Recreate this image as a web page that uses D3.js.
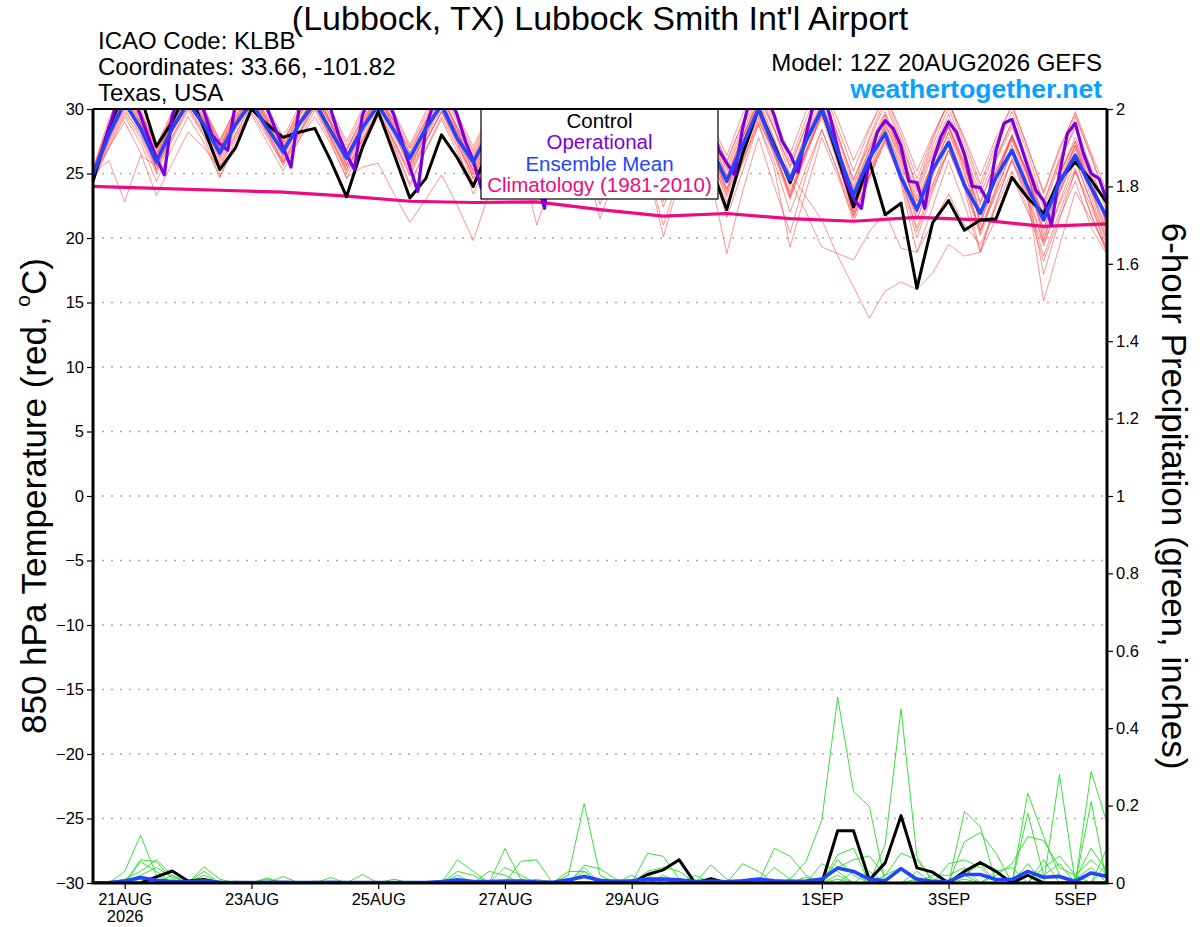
<!DOCTYPE html>
<html>
<head>
<meta charset="utf-8">
<script src="https://d3js.org/d3.v7.min.js"></script>
<style>
  body { margin: 0; background: #fff; }
  text { font-family: "Liberation Sans", Arial, Helvetica, sans-serif; }
</style>
</head>
<body>
<svg id="chart" width="1200" height="927"></svg>
<script>
// GEFS meteogram, Lubbock TX, run 12Z 20AUG2026
const START = Date.UTC(2026, 7, 20, 12);
const HOUR = 3600 * 1000;

const tempTicks = [-30, -25, -20, -15, -10, -5, 0, 5, 10, 15, 20, 25, 30];
const precipTicks = [0, 0.2, 0.4, 0.6, 0.8, 1, 1.2, 1.4, 1.6, 1.8, 2];
const tickDays = ["2026-08-21", "2026-08-23", "2026-08-25", "2026-08-27", "2026-08-29", "2026-09-01", "2026-09-03", "2026-09-05"];
const tickLabels = ["21AUG", "23AUG", "25AUG", "27AUG", "29AUG", "1SEP", "3SEP", "5SEP"];

// 6-hourly, 65 steps
const controlTemp = [
  24.4, 28.5, 31.5, 31.0, 27.1, 29.0, 31.5, 28.5, 25.3, 27.0,
  30.0, 28.8, 27.8, 28.2, 28.5, 26.0, 23.2, 27.0, 29.8, 26.5,
  23.1, 24.6, 28.0, 26.2, 24.0, 27.0, 30.5, 28.0, 24.5, 27.5,
  30.5, 28.0, 24.5, 28.0, 30.5, 28.0, 25.0, 28.5, 30.5, 25.5,
  22.2, 26.5, 30.0, 27.2, 24.3, 27.5, 30.0, 26.3, 22.4, 26.0,
  21.8, 22.7, 16.1, 21.2, 22.9, 20.6, 21.4, 21.5, 24.7, 23.1,
  21.9, 24.5, 25.9, 24.5, 22.7
];
const meanTemp = [
  24.9, 28.0, 30.5, 28.5, 25.9, 28.5, 30.5, 28.8, 26.6, 28.8,
  30.5, 28.5, 26.7, 28.8, 30.5, 28.3, 26.2, 28.5, 30.3, 28.3,
  26.2, 28.5, 30.3, 27.7, 25.9, 28.2, 30.3, 28.0, 25.7, 28.0,
  30.2, 27.8, 25.4, 28.0, 30.2, 27.5, 25.0, 27.8, 30.0, 27.0,
  24.4, 27.2, 30.0, 27.0, 24.5, 27.5, 30.0, 26.7, 23.3, 26.2,
  28.1, 24.7, 22.2, 25.3, 27.4, 24.1, 21.9, 24.7, 26.8, 23.9,
  21.4, 24.3, 26.4, 23.9, 21.6
];
// operational run is 3-hourly, 129 steps
const operTemp = [
  24.9, 26.5, 28.5, 30.5, 31.5, 31.0, 29.5, 27.8,
  26.2, 24.9, 29.5, 31.0, 31.5, 31.0, 29.8, 28.0,
  27.3, 26.8, 30.5, 31.5, 32.0, 31.5, 30.0, 28.5,
  27.0, 25.5, 30.0, 31.5, 32.0, 31.0, 30.0, 28.0,
  26.5, 25.3, 29.5, 31.0, 31.5, 31.0, 29.5, 27.5,
  25.5, 23.6, 28.5, 30.5, 31.5, 31.0, 29.5, 27.5,
  26.0, 23.9, 28.5, 30.5, 31.5, 31.0, 29.5, 27.0,
  24.5, 22.3, 28.0, 30.5, 31.5, 31.0, 29.5, 27.0,
  25.5, 23.8, 28.5, 30.5, 31.5, 31.0, 29.5, 27.5,
  25.5, 24.0, 28.5, 30.5, 31.5, 31.0, 29.0, 26.8,
  25.8, 24.9, 28.5, 31.0, 31.5, 31.0, 29.5, 27.5,
  26.5, 25.1, 28.0, 30.5, 31.5, 29.5, 27.0, 24.5,
  23.0, 22.3, 26.0, 28.2, 29.1, 28.5, 27.1, 24.4,
  24.3, 22.3, 25.9, 27.8, 29.0, 28.2, 26.5, 24.0,
  23.9, 22.8, 26.8, 28.9, 29.2, 27.4, 25.5, 23.7,
  22.9, 21.0, 25.0, 28.1, 28.9, 26.6, 25.0, 24.6,
  22.9
];
// daily, 12Z
const climTemp = [24.0, 23.85, 23.7, 23.55, 23.25, 22.85, 22.75, 22.8, 22.2, 21.7, 21.9, 21.5, 21.3, 21.6, 21.4, 20.9, 21.1];

// ensemble members (6-hourly)
const m01 = [25.2,28.6,31.2,29.4, 26.6,29.2,31.0,29.5, 27.2,29.5,31.3,29.2, 27.3,29.6,31.4,29.0, 26.8,29.2,31.0,29.0, 26.9,29.0,31.0,28.6, 26.4,28.8,30.9,28.6, 26.2,28.7,31.1,28.9, 26.0,28.6,31.0,28.4, 25.7,28.5,30.8,28.0, 25.2,28.2,31.0,28.4, 25.6,28.7,31.3,28.0, 24.6,27.2,29.8,26.5, 23.6,26.8,29.6,26.6, 23.4,26.3,28.9,25.6, 22.8,26.0,28.5,25.0, 22.5];
const m02 = [24.6,27.4,29.8,28.2, 25.4,27.9,30.2,28.0, 25.8,28.1,30.4,28.1, 26.0,28.2,30.6,27.8, 25.4,27.6,29.7,27.5, 25.0,27.5,29.8,27.2, 24.9,27.4,29.6,27.3, 25.1,27.8,30.1,27.6, 24.6,27.2,29.5,27.0, 23.8,26.6,29.2,26.4, 23.2,26.4,29.4,26.5, 23.6,26.8,29.8,26.0, 22.4,25.3,27.6,24.8, 21.6,24.2,26.8,24.0, 20.6,23.4,26.0,23.5, 20.8,23.6,26.1,22.7, 19.9];
const m03 = [25.0,26.0,22.8,26.4, 25.6,28.6,30.8,28.9, 26.8,29.1,31.0,29.0, 26.5,28.9,31.1,28.8, 26.3,28.6,30.8,28.5, 25.7,28.2,30.5,28.2, 25.9,28.4,30.7,28.4, 25.3,28.0,30.7,28.2, 25.5,28.3,30.9,28.1, 24.9,27.9,30.6,27.5, 24.4,27.8,30.8,27.7, 24.2,27.6,30.2,26.4, 21.6,24.8,28.4,25.6, 22.8,25.9,28.7,25.2, 21.2,24.6,27.9,25.0, 19.8,23.6,26.9,23.8, 20.3];
const m04 = [24.8,27.0,29.0,26.6, 23.3,25.8,28.2,27.0, 25.4,27.8,29.8,27.8, 25.8,27.6,29.4,27.3, 24.7,25.5,25.8,23.4, 21.2,23.0,24.9,22.5, 19.8,23.5,27.0,25.6, 23.5,26.8,29.6,27.5, 24.4,27.4,29.8,27.1, 23.6,26.9,29.7,26.9, 23.8,27.2,30.2,27.3, 24.0,27.4,30.0,26.0, 22.6,25.8,28.6,25.3, 21.9,25.1,28.2,25.6, 22.2,25.2,27.8,24.8, 21.8,25.0,27.5,24.2, 21.2];
const m05 = [25.4,29.2,32.0,30.0, 27.0,29.6,31.8,30.1, 27.6,30.0,32.2,30.2, 27.8,30.2,32.4,30.0, 27.5,30.0,32.0,29.8, 27.2,29.8,32.1,29.6, 27.1,29.6,31.8,29.5, 27.0,29.8,32.0,29.7, 26.8,29.5,31.8,29.2, 26.4,29.4,31.9,29.0, 26.4,29.6,32.2,29.3, 26.5,29.8,32.0,29.2, 26.0,28.6,31.0,28.4, 25.2,28.0,30.5,27.8, 24.8,27.8,30.2,27.0, 23.6,27.0,29.6,26.2, 23.0];
const m06 = [24.9,28.0,30.6,28.8, 26.0,28.6,30.6,28.9, 26.5,28.9,30.8,28.6, 26.9,29.0,30.9,28.4, 26.0,28.4,30.4,28.2, 26.4,28.6,30.6,28.0, 25.8,28.2,30.4,28.1, 25.6,28.2,30.5,28.0, 25.2,27.9,30.2,27.8, 24.8,27.6,30.1,27.3, 24.6,27.7,30.4,27.1, 24.8,27.9,30.6,27.2, 23.4,26.6,29.2,26.2, 22.9,25.8,28.6,25.8, 21.9,25.0,27.8,24.6, 21.6,24.6,27.2,24.1, 21.8];
const m07 = [25.0,28.2,30.8,29.0, 26.2,28.9,31.1,29.1, 26.8,29.2,31.2,29.0, 26.6,29.0,31.2,28.8, 26.0,28.7,31.0,28.7, 26.0,28.4,30.8,28.4, 25.6,28.2,30.6,28.5, 25.7,28.4,30.8,28.4, 25.4,28.2,30.7,28.2, 24.9,27.8,30.5,28.0, 24.8,27.9,30.6,27.0, 25.0,23.2,21.4,18.6, 16.2,13.8,15.9,16.6, 16.0,17.3,19.5,18.6, 18.9,21.5,24.8,22.0, 19.6,22.6,25.4,21.8, 19.0];
const m08 = [24.7,27.6,30.2,28.5, 25.8,28.3,30.4,28.6, 26.2,28.6,30.6,28.4, 26.4,28.7,30.7,28.2, 25.6,28.0,30.1,27.9, 25.7,27.9,30.0,27.6, 25.2,27.7,29.9,27.7, 24.8,27.5,29.8,27.4, 24.2,27.0,29.6,27.1, 23.8,26.8,29.3,26.6, 22.8,26.0,29.0,26.8, 24.5,22.0,19.3,18.8, 18.3,20.5,22.0,19.2, 18.9,21.2,23.4,21.0, 19.5,22.4,25.2,22.3, 18.2,21.6,24.4,20.8, 18.7];
const m09 = [25.1,28.4,31.0,29.2, 26.4,29.0,31.3,29.3, 27.0,29.4,31.5,29.4, 27.1,29.3,31.6,29.1, 26.4,28.8,31.0,28.6, 25.4,28.0,30.4,27.9, 24.6,27.6,30.0,27.2, 23.8,26.8,29.4,26.5, 22.6,25.8,28.6,25.4, 20.1,24.4,28.2,24.6, 18.8,23.6,27.8,24.0, 20.4,24.8,28.4,25.2, 21.8,24.8,27.4,24.6, 20.8,24.1,27.4,24.4, 20.6,23.8,26.6,23.2, 15.1,19.4,23.6,21.4, 19.2];
const m10 = [24.8,27.8,30.4,28.6, 25.6,28.2,30.3,28.5, 26.0,28.4,30.6,28.4, 25.9,28.1,30.2,27.8, 25.0,27.4,29.6,27.2, 24.2,26.9,29.4,27.0, 23.4,26.2,29.0,26.4, 21.0,24.5,28.4,26.0, 23.2,26.2,29.0,26.3, 22.4,25.6,28.8,25.8, 21.6,25.2,28.8,25.4, 19.3,23.6,27.8,24.8, 21.6,24.8,27.8,24.8, 20.5,23.8,26.8,24.0, 20.2,23.6,26.9,23.7, 19.4,22.8,26.0,22.8, 18.9];
const m11 = [25.3,28.8,31.4,29.6, 26.8,29.4,31.6,29.8, 27.4,29.8,31.8,29.7, 27.5,29.8,31.8,29.4, 26.8,29.1,31.2,29.0, 26.2,28.8,31.0,28.4, 25.0,27.8,30.2,27.4, 23.6,26.8,29.6,26.4, 21.5,25.0,28.4,25.4, 21.0,24.8,28.2,25.2, 22.4,26.0,29.2,26.4, 23.0,26.4,29.6,26.6, 22.0,25.6,28.9,25.8, 22.4,25.8,28.8,25.9, 21.0,24.6,28.0,24.9, 20.2,23.8,27.2,23.6, 20.0];
const m12 = [25.0,28.8,31.6,29.7, 26.9,29.5,31.9,30.0, 27.5,30.0,32.2,30.0, 27.4,29.9,32.1,29.8, 27.2,29.7,32.0,29.6, 27.0,29.5,31.9,29.4, 26.8,29.4,31.8,29.5, 26.6,29.4,31.9,29.4, 26.4,29.2,31.6,29.0, 26.0,29.0,31.6,28.8, 25.8,29.0,31.8,28.9, 25.9,29.2,31.9,28.6, 25.2,28.4,31.2,28.0, 24.6,27.8,30.6,27.6, 24.2,27.4,30.4,27.0, 23.4,26.8,29.8,26.6, 23.6];
const m13 = [24.5,27.2,29.6,27.8, 25.0,27.6,29.9,27.9, 24.7,27.6,30.1,28.0, 25.6,27.9,30.2,27.7, 25.2,27.6,29.8,27.4, 24.8,27.4,29.8,27.5, 24.6,27.3,29.7,27.2, 24.2,27.1,29.6,27.1, 23.8,26.9,29.6,27.0, 23.6,26.8,29.5,26.8, 23.4,26.8,29.8,26.8, 23.2,26.6,29.6,26.6, 23.0,26.2,28.8,26.2, 22.4,25.8,28.6,25.6, 21.8,25.2,28.0,25.0, 20.6,24.2,27.2,23.8, 20.6];
const m14 = [25.0,28.3,31.0,29.0, 25.2,28.4,31.0,29.2, 26.4,29.0,31.2,29.1, 27.0,29.4,31.4,29.0, 25.6,28.6,31.0,28.8, 25.8,28.5,30.9,28.6, 26.0,28.6,30.9,28.4, 25.6,28.4,30.8,28.2, 25.6,28.4,30.9,28.2, 25.4,28.2,30.6,27.6, 24.8,27.8,30.5,27.4, 24.2,27.4,30.3,27.0, 23.8,26.9,29.6,26.4, 22.0,25.4,28.2,25.0, 21.4,24.8,27.6,24.2, 21.9,24.9,27.5,24.6, 21.0];
const m15 = [24.3,27.0,29.4,27.4, 24.4,27.0,29.4,27.4, 24.7,27.2,29.6,27.4, 25.2,27.6,29.9,27.5, 24.6,27.1,29.4,27.0, 24.0,26.8,29.2,26.6, 24.2,26.9,29.3,26.9, 24.4,27.0,29.4,26.8, 23.4,26.4,29.0,26.4, 22.8,26.0,28.8,26.0, 22.4,25.8,28.8,25.9, 22.0,25.4,28.4,25.2, 21.2,24.6,27.6,24.4, 20.0,23.6,26.8,23.8, 19.0,22.8,26.0,22.8, 18.6,22.0,25.2,21.8, 18.8];
const m16 = [25.1,28.5,31.2,29.3, 26.5,29.0,31.1,29.2, 26.9,29.3,31.4,29.3, 26.4,28.9,31.0,28.9, 26.5,28.9,31.2,29.1, 26.6,29.0,31.3,29.0, 26.2,28.8,31.0,28.8, 26.0,28.8,31.2,28.8, 25.4,28.4,31.0,28.4, 25.6,28.5,31.2,28.5, 25.4,28.6,31.2,28.4, 24.8,28.2,31.0,27.8, 24.0,27.6,30.4,27.4, 23.8,27.2,30.1,26.8, 22.6,26.1,29.1,26.0, 22.2,25.8,28.8,25.4, 22.0];
const m17 = [24.6,27.9,30.5,28.7, 25.7,28.3,30.7,28.8, 26.3,28.8,30.9,28.7, 26.2,28.6,30.8,28.5, 25.7,28.2,30.4,28.2, 25.4,28.0,30.3,27.9, 25.3,27.9,30.2,28.0, 25.0,27.8,30.3,27.8, 24.8,27.6,30.1,27.5, 24.2,27.2,29.8,27.0, 23.8,27.0,29.9,26.9, 23.4,26.8,29.6,26.2, 22.8,25.9,28.4,24.2, 18.9,22.4,26.0,22.6, 18.9,22.6,26.2,23.0, 19.8,23.4,26.6,23.2, 19.6];
const m18 = [25.2,28.9,31.8,29.8, 27.2,29.8,32.0,30.1, 27.0,29.8,32.0,29.9, 26.9,29.6,31.8,29.4, 26.9,29.4,31.6,29.4, 26.5,29.2,31.6,29.2, 26.6,29.1,31.4,29.0, 26.4,29.1,31.6,29.0, 26.2,28.8,31.4,28.9, 25.8,28.7,31.2,28.6, 26.0,28.9,31.5,28.5, 25.4,28.6,31.4,28.0, 24.4,27.8,30.8,27.6, 24.0,27.6,30.6,27.2, 23.8,27.0,29.8,26.6, 22.6,26.2,29.4,26.4, 22.8];
const m19 = [24.8,27.6,30.0,28.0, 25.3,27.8,30.1,28.3, 25.6,28.0,30.3,28.2, 25.8,28.1,30.4,28.0, 25.3,27.7,29.9,27.6, 25.2,27.6,29.8,27.4, 24.2,27.0,29.4,27.2, 24.8,27.4,29.9,27.4, 24.4,27.1,29.6,27.2, 23.9,26.8,29.4,26.8, 23.6,26.7,29.6,26.6, 23.2,26.6,29.4,25.8, 22.0,25.4,28.2,24.8, 21.4,24.8,27.8,24.6, 20.4,24.0,27.2,23.6, 17.2,21.4,25.2,22.4, 19.4];
const m20 = [25.0,28.1,30.7,28.9, 26.3,28.8,30.9,29.0, 26.7,29.0,31.0,28.8, 26.7,28.9,30.9,28.5, 26.2,28.5,30.6,28.4, 26.1,28.4,30.5,28.2, 25.5,28.0,30.4,28.3, 25.4,28.1,30.6,28.3, 25.0,27.9,30.5,28.0, 24.6,27.6,30.3,27.6, 24.2,27.4,30.3,27.6, 24.6,27.8,30.4,27.0, 23.6,26.9,29.5,26.6, 23.2,26.5,29.2,26.3, 22.8,26.0,28.6,25.6, 21.4,24.9,27.8,24.8, 20.8];
const memberTemps = [m01, m02, m03, m04, m05, m06, m07, m08, m09, m10, m11, m12, m13, m14, m15, m16, m17, m18, m19, m20];

// 6-hour precipitation, inches
const controlPrecip = [
  0, 0, 0, 0, 0.016, 0.031, 0.005, 0.009, 0, 0,
  0, 0, 0, 0, 0, 0, 0, 0, 0, 0,
  0, 0, 0, 0, 0, 0, 0, 0, 0, 0,
  0, 0, 0, 0, 0, 0.022, 0.034, 0.06, 0, 0.011,
  0, 0, 0, 0, 0, 0, 0, 0.135, 0.135, 0.008,
  0.052, 0.174, 0.039, 0.028, 0, 0.03, 0.053, 0.03, 0, 0.02,
  0, 0, 0, 0, 0
];
const meanPrecip = [
  0, 0.001, 0.005, 0.014, 0.007, 0.004, 0.003, 0.006, 0.002, 0.001,
  0.001, 0.002, 0.002, 0.001, 0.001, 0.002, 0.001, 0.001, 0.001, 0.001,
  0.001, 0.001, 0.004, 0.008, 0.004, 0.004, 0.005, 0.005, 0.003, 0.002,
  0.008, 0.017, 0.007, 0.004, 0.006, 0.010, 0.010, 0.008, 0.004, 0.005,
  0.003, 0.006, 0.010, 0.006, 0.004, 0.005, 0.010, 0.039, 0.030, 0.010,
  0.006, 0.037, 0.010, 0.004, 0.004, 0.022, 0.022, 0.009, 0.009, 0.030,
  0.015, 0.017, 0.004, 0.026, 0.017
];
const p01 = [0,0,0.03,0.124,0.02,0,0,0,0,0, 0,0,0,0,0,0,0,0,0,0, 0,0,0,0,0,0,0.089,0.01,0,0, 0,0,0,0,0,0,0,0,0,0, 0,0,0,0,0.01,0.056,0.163,0.48,0.237,0.198, 0,0,0,0,0,0.02,0,0,0,0.05, 0,0,0,0,0];
const p02 = [0,0,0,0.06,0.055,0.01,0,0,0,0, 0,0.013,0,0,0,0,0,0,0,0, 0,0,0,0.06,0.03,0,0,0.056,0.06,0, 0,0,0,0,0,0,0,0,0,0, 0,0,0,0,0,0,0,0,0,0, 0.1,0.45,0.069,0,0,0,0,0,0,0, 0,0,0,0.288,0.155];
const p03 = [0,0,0,0.055,0.03,0,0,0.042,0.01,0, 0,0,0,0,0,0,0,0.022,0,0, 0,0,0,0,0,0,0,0,0,0, 0.02,0.205,0.02,0,0,0.077,0.069,0.01,0,0, 0,0,0,0,0,0,0,0,0,0, 0,0,0,0,0,0.185,0.146,0,0,0, 0,0.28,0,0,0];
const p04 = [0,0,0.01,0.03,0.06,0.02,0,0.03,0,0, 0,0,0,0,0,0.014,0,0,0,0, 0,0,0,0.03,0.02,0,0,0,0,0, 0,0.046,0.037,0.01,0,0,0,0,0,0.047, 0.01,0,0,0.09,0.069,0.02,0,0.073,0.09,0, 0,0,0,0,0,0,0,0,0,0.232, 0.12,0.02,0,0,0];
const p05 = [0,0,0,0.02,0.04,0.015,0,0,0,0, 0,0,0.017,0,0,0,0,0,0,0, 0,0,0,0,0,0,0.04,0.02,0,0, 0,0.04,0,0,0,0.03,0.04,0.03,0,0, 0,0,0,0,0,0,0,0.04,0.06,0.07, 0.02,0.077,0.06,0.01,0,0.107,0.13,0.077,0,0, 0,0,0,0.21,0];
const p06 = [0,0,0,0,0,0,0,0.02,0,0, 0,0.01,0,0,0,0,0,0,0,0, 0,0,0,0,0,0.03,0.02,0,0,0, 0.03,0.03,0,0,0,0,0,0,0,0, 0,0.05,0.03,0,0,0,0.05,0.03,0,0, 0,0,0,0,0.05,0.06,0.04,0,0,0.18, 0.02,0.05,0,0,0.05];
const p07 = [0,0,0,0,0,0.02,0,0,0,0.005, 0,0,0,0,0,0,0,0,0,0.01, 0,0,0,0.02,0,0,0,0,0,0, 0,0.03,0,0,0.02,0,0.02,0,0,0, 0,0,0,0.04,0.01,0,0,0.02,0,0, 0,0,0.03,0,0,0,0,0.02,0.05,0.12, 0.11,0.04,0.02,0.06,0.02];
const p08 = [0,0,0,0.01,0,0,0,0,0.005,0, 0,0,0,0,0.005,0,0,0,0,0, 0,0,0,0,0,0,0,0,0.01,0, 0,0,0,0,0,0.02,0,0.01,0,0, 0,0,0,0,0,0.015,0,0,0.03,0, 0.02,0.04,0,0,0,0.02,0.05,0,0,0, 0.04,0.07,0.02,0,0.09];
const p09 = [0,0,0.005,0,0,0,0.004,0,0,0, 0,0,0,0,0,0,0,0,0,0, 0,0,0,0.01,0,0,0,0,0,0, 0,0,0,0.01,0,0,0,0,0.02,0, 0,0,0,0,0,0,0,0.01,0,0.03, 0,0,0,0.02,0.02,0.04,0,0.03,0.04,0, 0.06,0,0.01,0.04,0];
const p10 = [0,0,0,0,0.01,0,0,0,0,0, 0,0,0,0,0,0,0.004,0,0,0, 0.004,0,0,0,0,0,0,0,0,0, 0,0.02,0,0,0,0,0.01,0,0,0, 0,0,0.01,0,0,0,0,0.06,0.02,0, 0,0,0.01,0,0,0.01,0,0,0,0.03, 0,0,0.01,0.09,0.03];
const memberPrecip = [p01, p02, p03, p04, p05, p06, p07, p08, p09, p10];

const COLORS = {
  member: "#ff3838",
  precip: "#22dd22",
  control: "#000000",
  oper: "#7a00e0",
  mean: "#2244ff",
  clim: "#ee0a80",
  site: "#0aa0ff",
  grid: "#aaaaaa"
};

const plot = { left: 93, right: 1107, top: 109, bottom: 883 };

const svg = d3.select("#chart");

const times6 = d3.range(controlTemp.length).map(i => new Date(START + i * 6 * HOUR));
const times3 = d3.range(operTemp.length).map(j => new Date(START + j * 3 * HOUR));
const timesClim = d3.range(climTemp.length).map(k => new Date(START + k * 24 * HOUR));

const x = d3.scaleUtc()
  .domain([new Date(START), times6[times6.length - 1]])
  .range([plot.left, plot.right]);
const yT = d3.scaleLinear().domain([-30, 30]).range([plot.bottom, plot.top]);
const yP = d3.scaleLinear().domain([0, 2]).range([plot.bottom, plot.top]);

svg.append("defs").append("clipPath").attr("id", "plotClip")
  .append("rect")
  .attr("x", plot.left).attr("y", plot.top)
  .attr("width", plot.right - plot.left).attr("height", plot.bottom - plot.top);

// gridlines
svg.append("g")
  .selectAll("line")
  .data(tempTicks.filter(t => t > -30 && t < 30))
  .join("line")
  .attr("x1", plot.left).attr("x2", plot.right)
  .attr("y1", d => yT(d)).attr("y2", d => yT(d))
  .attr("stroke", COLORS.grid)
  .attr("stroke-width", 1.4)
  .attr("stroke-dasharray", "2,7");

const lineT = times => d3.line().x((d, i) => x(times[i])).y(d => yT(d));
const lineP = d3.line().x((d, i) => x(times6[i])).y(d => yP(d));

const marks = svg.append("g").attr("clip-path", "url(#plotClip)");

marks.append("g")
  .selectAll("path")
  .data(memberTemps)
  .join("path")
  .attr("d", lineT(times6))
  .attr("fill", "none")
  .attr("stroke", COLORS.member)
  .attr("stroke-opacity", 0.6)
  .attr("stroke-width", 0.9);

marks.append("g")
  .selectAll("path")
  .data(memberPrecip)
  .join("path")
  .attr("d", lineP)
  .attr("fill", "none")
  .attr("stroke", COLORS.precip)
  .attr("stroke-width", 0.9);

const addLine = (data, gen, color, width) => marks.append("path")
  .datum(data)
  .attr("d", gen)
  .attr("fill", "none")
  .attr("stroke", color)
  .attr("stroke-width", width)
  .attr("stroke-linejoin", "round");

addLine(climTemp, lineT(timesClim), COLORS.clim, 3.2);
addLine(controlTemp, lineT(times6), COLORS.control, 3);
addLine(operTemp, lineT(times3), COLORS.oper, 3.2);
addLine(meanTemp, lineT(times6), COLORS.mean, 3.6);
addLine(controlPrecip, lineP, COLORS.control, 3);
addLine(meanPrecip, lineP, COLORS.mean, 3.6);

// legend box
const legend = svg.append("g");
legend.append("rect")
  .attr("x", 481).attr("y", plot.top)
  .attr("width", 237).attr("height", 90)
  .attr("fill", "#fff").attr("stroke", "#000").attr("stroke-width", 1.2);
const legendItems = [
  { label: "Control", color: COLORS.control },
  { label: "Operational", color: COLORS.oper },
  { label: "Ensemble Mean", color: COLORS.mean },
  { label: "Climatology (1981-2010)", color: COLORS.clim }
];
legend.selectAll("text")
  .data(legendItems)
  .join("text")
  .attr("x", 599.5)
  .attr("y", (d, i) => 128 + i * 21.3)
  .attr("text-anchor", "middle")
  .style("font-size", "20.5px")
  .attr("fill", d => d.color)
  .text(d => d.label);

// axes
const axisLeft = d3.axisLeft(yT).tickValues(tempTicks).tickSize(6).tickPadding(3);
const gL = svg.append("g").attr("transform", `translate(${plot.left},0)`).call(axisLeft);
const axisRight = d3.axisRight(yP).tickValues(precipTicks).tickSize(6).tickPadding(3)
  .tickFormat(d => String(+d.toFixed(1)));
const gR = svg.append("g").attr("transform", `translate(${plot.right},0)`).call(axisRight);
const axisBottom = d3.axisBottom(x)
  .tickValues(tickDays.map(d => new Date(d + "T00:00:00Z")))
  .tickSize(6).tickPadding(4)
  .tickFormat((d, i) => tickLabels[i]);
const gB = svg.append("g").attr("transform", `translate(0,${plot.bottom})`).call(axisBottom);

[gL, gR, gB].forEach(g => {
  g.select(".domain").remove();
  g.selectAll(".tick line").attr("stroke", "#000").attr("stroke-width", 1.2);
  g.selectAll(".tick text").style("font-size", "16.5px").attr("fill", "#000");
});
gB.select(".tick text").clone()
  .attr("dy", "1.75em")
  .text("2026");

// frame
const frame = svg.append("g").attr("stroke", "#000").attr("fill", "none");
frame.append("line").attr("x1", plot.left).attr("x2", plot.right).attr("y1", plot.top).attr("y2", plot.top).attr("stroke-width", 2);
frame.append("line").attr("x1", plot.left - 1.5).attr("x2", plot.right + 1.5).attr("y1", plot.bottom).attr("y2", plot.bottom).attr("stroke-width", 3);
frame.append("line").attr("x1", plot.left).attr("x2", plot.left).attr("y1", plot.top).attr("y2", plot.bottom).attr("stroke-width", 3);
frame.append("line").attr("x1", plot.right).attr("x2", plot.right).attr("y1", plot.top).attr("y2", plot.bottom).attr("stroke-width", 3);

// titles
svg.append("text").attr("x", 600).attr("y", 30).attr("text-anchor", "middle")
  .style("font-size", "34px").text("(Lubbock, TX) Lubbock Smith Int'l Airport");
const info = ["ICAO Code: KLBB", "Coordinates: 33.66, -101.82", "Texas, USA"];
svg.selectAll("text.info").data(info).join("text").attr("class", "info")
  .attr("x", 98).attr("y", (d, i) => 49 + i * 25.8)
  .style("font-size", "24px").text(d => d);
svg.append("text").attr("x", 1102).attr("y", 71).attr("text-anchor", "end")
  .style("font-size", "24px").text("Model: 12Z 20AUG2026 GEFS");
svg.append("text").attr("x", 1102).attr("y", 98).attr("text-anchor", "end")
  .style("font-size", "26.5px").style("font-weight", "bold").attr("fill", COLORS.site)
  .text("weathertogether.net");

// axis titles
const yl = svg.append("text")
  .attr("transform", "translate(46,496) rotate(-90)")
  .attr("text-anchor", "middle")
  .style("font-size", "35px");
yl.append("tspan").text("850 hPa Temperature (red, ");
yl.append("tspan").style("font-size", "21px").attr("dy", "-0.75em").text("o");
yl.append("tspan").attr("dy", "0.45em").text("C)");

svg.append("text")
  .attr("transform", "translate(1162,496) rotate(90)")
  .attr("text-anchor", "middle")
  .style("font-size", "35px")
  .text("6-hour Precipitation (green, inches)");
</script>
</body>
</html>
